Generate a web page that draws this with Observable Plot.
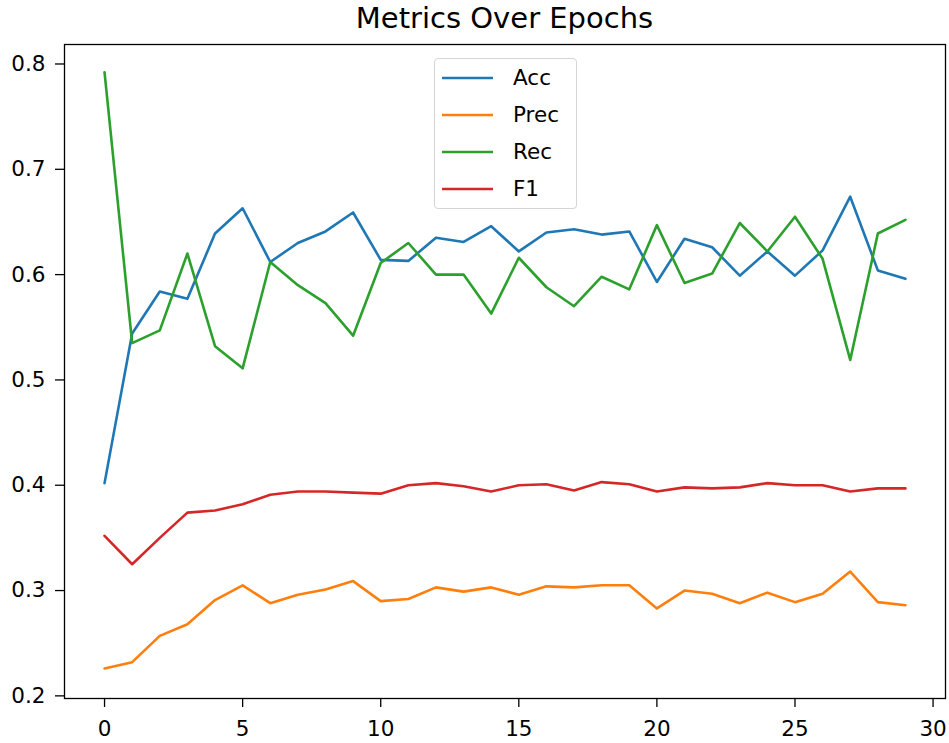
<!DOCTYPE html>
<html>
<head>
<meta charset="utf-8">
<script src="https://cdn.jsdelivr.net/npm/d3@7"></script>
<script src="https://cdn.jsdelivr.net/npm/@observablehq/plot@0.6"></script>
<style>
  body { margin: 0; background: #fff; font-family: "DejaVu Sans", sans-serif; }
  #wrap { position: relative; width: 949px; height: 743px; }
  #title { margin-left: 64px; width: 881px; height: 36px; line-height: 36px; text-align: center; font-size: 29px; color: #000; }
  #legend { position: absolute; left: 434px; top: 58px; width: 141px; border: 1px solid #d5d5d5; border-radius: 4px; background: rgba(255,255,255,0.8); padding: 0 0 1px 0; }
  .row { display: flex; align-items: center; height: 37px; font-size: 21.5px; }
  .row svg { margin-left: 7px; margin-right: 20px; }
</style>
</head>
<body>
<div id="wrap">
  <div id="title">Metrics Over Epochs</div>
  <div id="chart"></div>
  <div id="legend"></div>
</div>
<script>
const epochs = Array.from({length: 30}, (_, i) => i);
const seriesNames = ["Acc", "Prec", "Rec", "F1"];
const seriesColors = ["#1f77b4", "#ff7f0e", "#2ca02c", "#d62728"];
const acc = [0.402, 0.544, 0.584, 0.577, 0.639, 0.663, 0.612, 0.630, 0.641, 0.659,
             0.614, 0.613, 0.635, 0.631, 0.646, 0.622, 0.640, 0.643, 0.638, 0.641,
             0.593, 0.634, 0.626, 0.599, 0.622, 0.599, 0.623, 0.674, 0.604, 0.596];
const prec = [0.226, 0.232, 0.257, 0.268, 0.291, 0.305, 0.288, 0.296, 0.301, 0.309,
              0.290, 0.292, 0.303, 0.299, 0.303, 0.296, 0.304, 0.303, 0.305, 0.305,
              0.283, 0.300, 0.297, 0.288, 0.298, 0.289, 0.297, 0.318, 0.289, 0.286];
const rec = [0.792, 0.535, 0.547, 0.620, 0.532, 0.511, 0.612, 0.590, 0.573, 0.542,
             0.611, 0.630, 0.600, 0.600, 0.563, 0.616, 0.588, 0.570, 0.598, 0.586,
             0.647, 0.592, 0.601, 0.649, 0.622, 0.655, 0.615, 0.519, 0.639, 0.652];
const f1 = [0.352, 0.325, 0.350, 0.374, 0.376, 0.382, 0.391, 0.394, 0.394, 0.393,
            0.392, 0.400, 0.402, 0.399, 0.394, 0.400, 0.401, 0.395, 0.403, 0.401,
            0.394, 0.398, 0.397, 0.398, 0.402, 0.400, 0.400, 0.394, 0.397, 0.397];
const xTicks = [0, 5, 10, 15, 20, 25, 30];
const yTicks = [0.2, 0.3, 0.4, 0.5, 0.6, 0.7, 0.8];

const seriesValues = [acc, prec, rec, f1];
const data = seriesNames.flatMap((name, s) =>
  seriesValues[s].map((v, i) => ({epoch: epochs[i], value: v, series: name})));

const chart = Plot.plot({
  width: 949,
  height: 707,
  marginTop: 8,
  marginBottom: 45,
  marginLeft: 64,
  marginRight: 4,
  style: {fontFamily: "DejaVu Sans, sans-serif", fontSize: "21.5px", color: "#000", background: "#fff"},
  x: {domain: [-1.45, 30.45], ticks: xTicks, tickFormat: d3.format("d"), label: null},
  y: {domain: [0.1975, 0.8185], ticks: yTicks, tickFormat: d3.format(".1f"), label: null},
  color: {domain: seriesNames, range: seriesColors},
  marks: [
    Plot.axisX({ticks: xTicks, tickSize: 9, tickPadding: 13, tickFormat: d3.format("d"), label: null, strokeWidth: 1.3}),
    Plot.axisY({ticks: yTicks, tickSize: 9, tickPadding: 10, tickFormat: d3.format(".1f"), label: null, strokeWidth: 1.3}),
    Plot.line(data, {x: "epoch", y: "value", z: "series", stroke: "series", strokeWidth: 2.6}),
    Plot.frame({stroke: "#000", strokeWidth: 1.3})
  ]
});
document.getElementById("chart").appendChild(chart);

const legend = document.getElementById("legend");
seriesNames.forEach((name, i) => {
  const row = document.createElement("div");
  row.className = "row";
  row.innerHTML = `<svg width="51" height="6"><line x1="0" x2="51" y1="3" y2="3" stroke="${seriesColors[i]}" stroke-width="2.6"/></svg><span>${name}</span>`;
  legend.appendChild(row);
});
</script>
</body>
</html>
